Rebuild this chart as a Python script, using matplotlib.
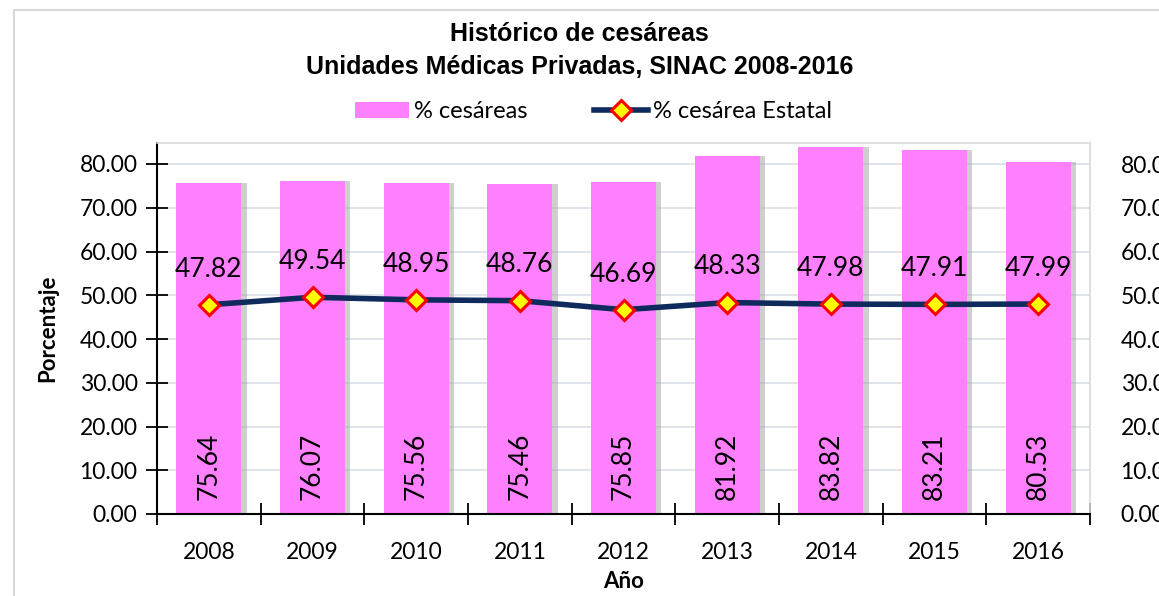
import numpy as np
import matplotlib.pyplot as plt
from matplotlib.patches import Rectangle
from matplotlib.lines import Line2D
from matplotlib.patches import Patch

years = ["2008", "2009", "2010", "2011", "2012", "2013", "2014", "2015", "2016"]
cesareas = [75.64, 76.07, 75.56, 75.46, 75.85, 81.92, 83.82, 83.21, 80.53]
estatal = [47.82, 49.54, 48.95, 48.76, 46.69, 48.33, 47.98, 47.91, 47.99]

plt.rcParams['font.family'] = ['Lato', 'DejaVu Sans']
title_font = ['Liberation Sans Narrow', 'Liberation Sans', 'DejaVu Sans']

fig = plt.figure(figsize=(11.59, 5.96), dpi=100)
fig.patches.append(Rectangle((14 / 1159, -0.1), 1.2, 1 - 10 / 596 + 0.1,
                             transform=fig.transFigure, fill=False,
                             edgecolor="#D9D9D9", linewidth=1.5))

ax = fig.add_axes([157 / 1159, 1 - 514 / 596, 933 / 1159, 371 / 596])
x = np.arange(len(years))
w = 0.63

# bar shadows
ax.bar(x + 0.05, cesareas, w, color="#A8A8A8", alpha=0.55, zorder=1)
ax.bar(x, cesareas, w, color="#FF80FF", zorder=2, label="% cesáreas")
ax.plot(x, estatal, color="#0F2A5C", linewidth=4, marker="D", markersize=10,
        markerfacecolor="#FFFF00", markeredgecolor="#FF0000",
        markeredgewidth=2.2, zorder=4, label="% cesárea Estatal")

for i in range(len(years)):
    ax.text(x[i], 11.0, f"{cesareas[i]:.2f}", rotation=90, ha="center",
            va="center", fontsize=19, color="black", zorder=5)
    ax.text(x[i], estatal[i] + 5.3, f"{estatal[i]:.2f}", ha="center",
            va="bottom", fontsize=19, color="black", zorder=5)

ax.set_xlim(-0.5, len(years) - 0.5)
ax.set_ylim(0, 84.8)
ax.set_yticks(np.arange(0, 81, 10))
ax.set_yticklabels([f"{v:.2f}" for v in np.arange(0, 81, 10)], fontsize=16.5)
ax.set_xticks(x)
ax.set_xticklabels(years, fontsize=16.5)
ax.tick_params(axis="x", length=0, pad=20)
ax.set_xticks(np.arange(-0.5, len(years), 1), minor=True)
ax.tick_params(axis="x", which="minor", direction="inout", length=16, width=1.3)
ax.tick_params(axis="y", direction="inout", length=16, width=1.3, pad=6)
ax.grid(axis="y", color="#D9DEE6", linewidth=1.2, zorder=0)
ax.set_axisbelow(True)
for s in ["left", "bottom"]:
    ax.spines[s].set_linewidth(1.5)
    ax.spines[s].set_color("black")
for s in ["top", "right"]:
    ax.spines[s].set_color("#D9D9D9")
    ax.spines[s].set_linewidth(1.2)

ax2 = ax.twinx()
ax2.set_ylim(ax.get_ylim())
ax2.set_yticks(np.arange(0, 81, 10))
ax2.set_yticklabels([f"{v:.2f}" for v in np.arange(0, 81, 10)], fontsize=16.5)
ax2.tick_params(axis="y", length=0, pad=22)
for s in ax2.spines.values():
    s.set_visible(False)

ax.set_ylabel("Porcentaje", fontsize=16, fontweight="bold", labelpad=15)
ax.set_xlabel("Año", fontsize=16, fontweight="bold", labelpad=6)

fig.text(0.5, 1 - 34 / 596, "Histórico de cesáreas", ha="center", va="center",
         fontsize=18, fontweight="bold", family=title_font)
fig.text(0.5, 1 - 67 / 596, "Unidades Médicas Privadas, SINAC 2008-2016",
         ha="center", va="center", fontsize=18, fontweight="bold", family=title_font)

handles = [Patch(facecolor="#FF80FF", edgecolor="none"),
           Line2D([], [], color="#0F2A5C", linewidth=4, marker="D", markersize=10,
                  markerfacecolor="#FFFF00", markeredgecolor="#FF0000",
                  markeredgewidth=2.2)]
fig.legend(handles, ["% cesáreas", "% cesárea Estatal"], loc="center",
           bbox_to_anchor=(0.512, 1 - 112 / 596), ncol=2, frameon=False,
           fontsize=17, handlelength=2.3, handletextpad=0.2, columnspacing=2.8)

fig.savefig("out.png", dpi=100)
